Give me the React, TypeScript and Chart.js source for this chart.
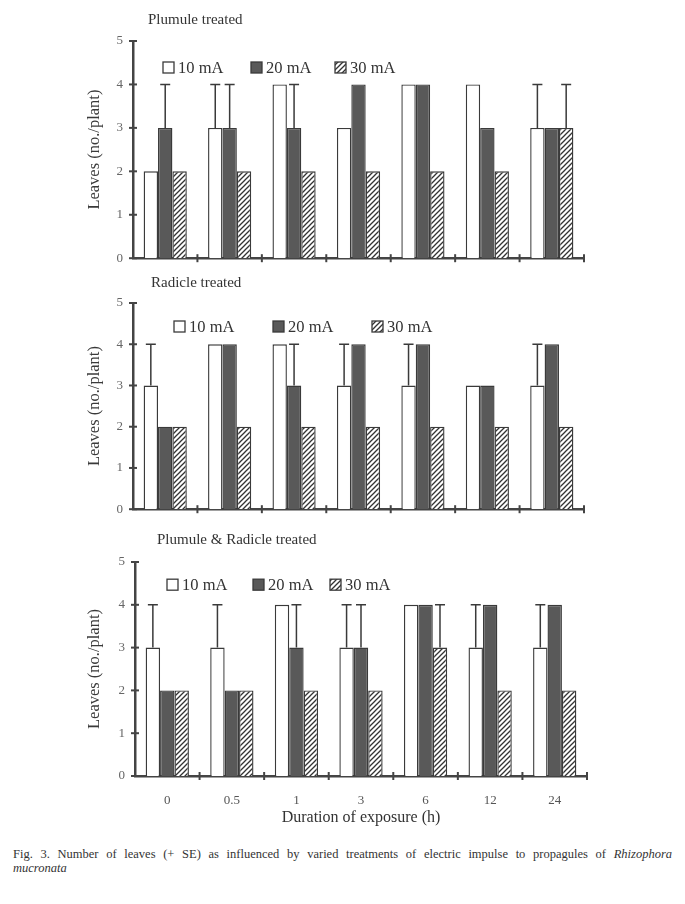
import React, { useEffect, useRef } from "react";
import { Chart, registerables } from "chart.js";
Chart.register(...registerables);

// ---------- data ----------
const durations = ["0", "0.5", "1", "3", "6", "12", "24"];
const seriesLabels = ["10 mA", "20 mA", "30 mA"];
const yTicks = [0, 1, 2, 3, 4, 5];

const plumule10 = [2, 3, 4, 3, 4, 4, 3];
const plumule20 = [3, 3, 3, 4, 4, 3, 3];
const plumule30 = [2, 2, 2, 2, 2, 2, 3];
const plumule10Err = [0, 1, 0, 0, 0, 0, 1];
const plumule20Err = [1, 1, 1, 0, 0, 0, 0];
const plumule30Err = [0, 0, 0, 0, 0, 0, 1];

const radicle10 = [3, 4, 4, 3, 3, 3, 3];
const radicle20 = [2, 4, 3, 4, 4, 3, 4];
const radicle30 = [2, 2, 2, 2, 2, 2, 2];
const radicle10Err = [1, 0, 0, 1, 1, 0, 1];
const radicle20Err = [0, 0, 1, 0, 0, 0, 0];
const radicle30Err = [0, 0, 0, 0, 0, 0, 0];

const both10 = [3, 3, 4, 3, 4, 3, 3];
const both20 = [2, 2, 3, 3, 4, 4, 4];
const both30 = [2, 2, 2, 2, 3, 2, 2];
const both10Err = [1, 1, 0, 1, 0, 1, 1];
const both20Err = [0, 0, 1, 1, 0, 0, 0];
const both30Err = [0, 0, 0, 0, 1, 0, 0];

const panelTitles = ["Plumule treated", "Radicle treated", "Plumule & Radicle treated"];
const yAxisTitle = "Leaves (no./plant)";
const xAxisTitle = "Duration of exposure (h)";

// ---------- styles ----------
const SERIF = "'Liberation Serif', 'DejaVu Serif', serif";
const INK = "#3a3a3a";
const DARK = "#595959";
const AXIS = "#444444";

function makeHatch(): CanvasPattern | string {
  const s = 5;
  const c = document.createElement("canvas");
  c.width = s;
  c.height = s;
  const g = c.getContext("2d");
  if (!g) return "#ffffff";
  g.fillStyle = "#ffffff";
  g.fillRect(0, 0, s, s);
  g.strokeStyle = "#333333";
  g.lineWidth = 1.3;
  g.beginPath();
  g.moveTo(0, s);
  g.lineTo(s, 0);
  g.moveTo(-1, 1);
  g.lineTo(1, -1);
  g.moveTo(s - 1, s + 1);
  g.lineTo(s + 1, s - 1);
  g.stroke();
  const p = g.createPattern(c, "repeat");
  return p || "#ffffff";
}

const decorPlugin = {
  id: "panelDecor",
  afterDatasetsDraw(chart: any, _args: any, opts: any) {
    const ctx = chart.ctx;
    const y = chart.scales.y;
    // error bars (+SE)
    chart.data.datasets.forEach((ds: any, di: number) => {
      const meta = chart.getDatasetMeta(di);
      const errs = opts.errors[di];
      meta.data.forEach((bar: any, i: number) => {
        const e = errs[i];
        if (!e) return;
        const top = y.getPixelForValue(ds.data[i] + e);
        ctx.save();
        ctx.strokeStyle = INK;
        ctx.lineWidth = 1.5;
        ctx.beginPath();
        ctx.moveTo(bar.x, bar.y);
        ctx.lineTo(bar.x, top);
        ctx.moveTo(bar.x - 5, top);
        ctx.lineTo(bar.x + 5, top);
        ctx.stroke();
        ctx.restore();
      });
    });
  },
  afterDraw(chart: any, _args: any, opts: any) {
    const ctx = chart.ctx;
    const area = chart.chartArea;
    const y = chart.scales.y;
    ctx.save();
    // axis tick crosses
    ctx.strokeStyle = AXIS;
    ctx.lineWidth = 2;
    yTicks.forEach((v) => {
      const py = y.getPixelForValue(v);
      ctx.beginPath();
      ctx.moveTo(area.left - 4, py);
      ctx.lineTo(area.left + 4, py);
      ctx.stroke();
    });
    const n = durations.length;
    const step = (area.right - area.left) / n;
    for (let k = 1; k <= n; k++) {
      const px = area.left + k * step;
      ctx.beginPath();
      ctx.moveTo(px, area.bottom - 4);
      ctx.lineTo(px, area.bottom + 4);
      ctx.stroke();
    }
    // panel title
    ctx.fillStyle = "#333333";
    ctx.font = `15px ${SERIF}`;
    ctx.textBaseline = "middle";
    ctx.textAlign = "left";
    ctx.fillText(opts.title, opts.titleX, opts.titleY);
    // legend
    const ly = y.getPixelForValue(opts.legendValue);
    chart.data.datasets.forEach((ds: any, di: number) => {
      const bx = opts.legendXs[di];
      ctx.fillStyle = ds.backgroundColor;
      ctx.fillRect(bx, ly - 5.5, 11, 11);
      ctx.strokeStyle = INK;
      ctx.lineWidth = 1.3;
      ctx.strokeRect(bx, ly - 5.5, 11, 11);
      ctx.fillStyle = "#333333";
      ctx.font = `16.5px ${SERIF}`;
      ctx.fillText(ds.label, bx + 15, ly + 1);
    });
    ctx.restore();
  },
};

type PanelCfg = {
  top: number;
  height: number;
  padTop: number;
  padLeft: number;
  padRight: number;
  yWidth: number;
  xHeight: number;
  showX: boolean;
  values: number[][];
  errors: number[][];
  title: string;
  titleX: number;
  titleY: number;
  legendXs: number[];
  legendValue: number;
};

const panels: PanelCfg[] = [
  {
    top: 0, height: 276, padTop: 41, padLeft: 85, padRight: 101, yWidth: 48, xHeight: 5, showX: false,
    values: [plumule10, plumule20, plumule30],
    errors: [plumule10Err, plumule20Err, plumule30Err],
    title: panelTitles[0], titleX: 148, titleY: 20, legendXs: [163, 251, 335], legendValue: 4.39,
  },
  {
    top: 262, height: 265, padTop: 41, padLeft: 85, padRight: 101, yWidth: 48, xHeight: 8, showX: false,
    values: [radicle10, radicle20, radicle30],
    errors: [radicle10Err, radicle20Err, radicle30Err],
    title: panelTitles[1], titleX: 151, titleY: 21, legendXs: [174, 273, 372], legendValue: 4.43,
  },
  {
    top: 516, height: 314, padTop: 46, padLeft: 85, padRight: 98, yWidth: 50, xHeight: 54, showX: true,
    values: [both10, both20, both30],
    errors: [both10Err, both20Err, both30Err],
    title: panelTitles[2], titleX: 157, titleY: 24, legendXs: [167, 253, 330], legendValue: 4.47,
  },
];

function Panel({ cfg }: { cfg: PanelCfg }) {
  const ref = useRef<HTMLCanvasElement>(null);
  useEffect(() => {
    if (!ref.current) return;
    const hatch = makeHatch();
    const fills: any[] = ["#ffffff", DARK, hatch];
    const chart = new Chart(ref.current, {
      type: "bar",
      data: {
        labels: durations,
        datasets: seriesLabels.map((lab, i) => ({
          label: lab,
          data: cfg.values[i],
          backgroundColor: fills[i],
          borderColor: INK,
          borderWidth: 1.4,
          barPercentage: 1,
          categoryPercentage: 0.67,
        })),
      },
      options: {
        animation: false,
        responsive: false,
        maintainAspectRatio: false,
        devicePixelRatio: 1,
        layout: { padding: { top: cfg.padTop, left: cfg.padLeft, right: cfg.padRight, bottom: 0 } },
        plugins: {
          legend: { display: false },
          tooltip: { enabled: false },
          panelDecor: {
            errors: cfg.errors,
            title: cfg.title,
            titleX: cfg.titleX,
            titleY: cfg.titleY,
            legendXs: cfg.legendXs,
            legendValue: cfg.legendValue,
          },
        } as any,
        scales: {
          x: {
            offset: true,
            grid: { display: false, drawTicks: false },
            border: { display: true, color: AXIS, width: 2.5 },
            ticks: { display: cfg.showX, color: "#555555", padding: 17, font: { family: SERIF, size: 13 } },
            title: {
              display: cfg.showX,
              text: xAxisTitle,
              color: "#333333",
              font: { family: SERIF, size: 16 },
              padding: { top: 0, bottom: 3 },
            },
            afterFit: (s: any) => {
              s.height = cfg.xHeight;
            },
          },
          y: {
            min: 0,
            max: 5,
            afterBuildTicks: (s: any) => {
              s.ticks = yTicks.map((v) => ({ value: v }));
            },
            grid: { display: false, drawTicks: false },
            border: { display: true, color: AXIS, width: 2.5 },
            ticks: { color: "#666666", padding: 10, font: { family: SERIF, size: 13 } },
            title: {
              display: true,
              text: yAxisTitle,
              color: "#3a3a3a",
              font: { family: SERIF, size: 16.5 },
              padding: { top: 0, bottom: 0 },
            },
            afterFit: (s: any) => {
              s.width = cfg.yWidth;
            },
          },
        },
      } as any,
      plugins: [decorPlugin as any],
    });
    return () => chart.destroy();
  }, []);
  return (
    <canvas
      ref={ref}
      width={685}
      height={cfg.height}
      style={{ position: "absolute", left: 0, top: cfg.top, width: 685, height: cfg.height }}
    />
  );
}

export default function App() {
  return (
    <div style={{ position: "absolute", left: 0, top: 0, width: 685, height: 904, background: "#ffffff", overflow: "hidden" }}>
      {panels.map((p, i) => (
        <Panel key={i} cfg={p} />
      ))}
      <div
        style={{
          position: "absolute",
          left: 13,
          top: 847,
          width: 659,
          fontFamily: SERIF,
          fontSize: 12.5,
          lineHeight: "14px",
          color: "#333333",
          textAlign: "justify",
          textAlignLast: "justify" as any,
          whiteSpace: "nowrap" as any,
        }}
      >
        Fig. 3. Number of leaves (+ SE) as influenced by varied treatments of electric impulse to propagules of <i>Rhizophora</i>
      </div>
      <div
        style={{
          position: "absolute",
          left: 13,
          top: 861,
          fontFamily: SERIF,
          fontSize: 12.5,
          lineHeight: "14px",
          color: "#333333",
        }}
      >
        <i>mucronata</i>
      </div>
    </div>
  );
}
